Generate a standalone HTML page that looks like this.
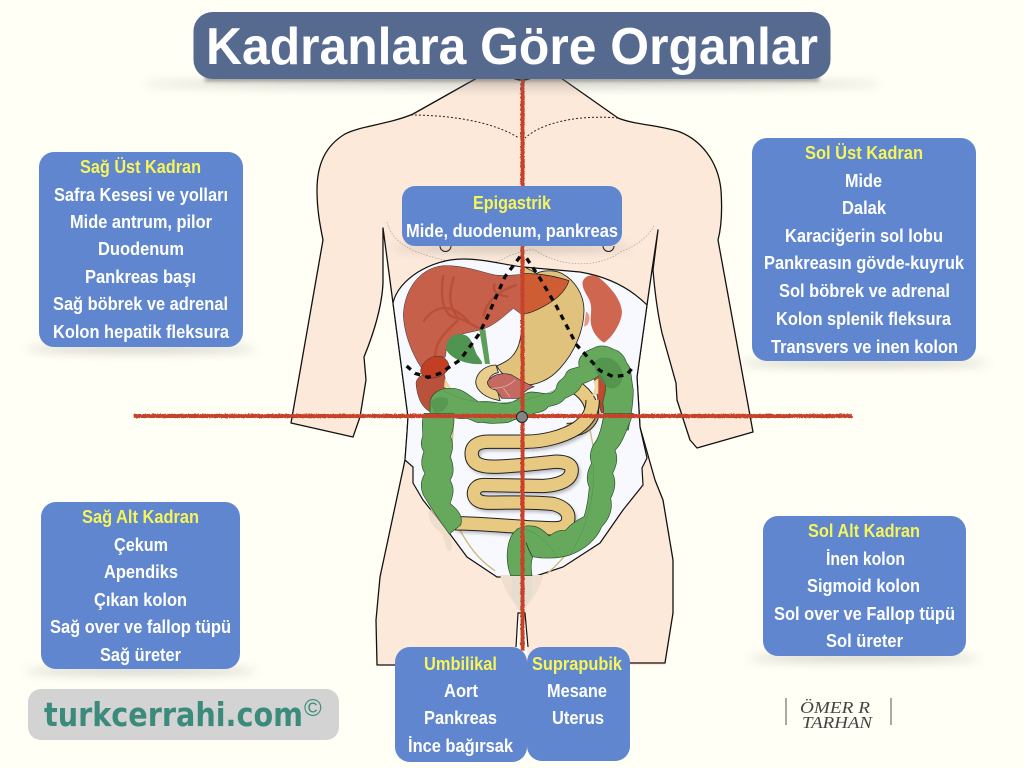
<!DOCTYPE html>
<html><head><meta charset="utf-8"><style>
html,body{margin:0;padding:0;background:#fffff5}
svg{display:block}
.l{font-family:"Liberation Sans",sans-serif;font-weight:bold;font-size:18px;fill:#fff}
.y{fill:#f6f55a}
</style></head><body>
<svg width="1024" height="768" viewBox="0 0 1024 768" xmlns="http://www.w3.org/2000/svg">
<defs>
<filter id="b" x="-30%" y="-300%" width="160%" height="700%"><feGaussianBlur stdDeviation="5"/></filter>
<filter id="b2" x="-10%" y="-300%" width="120%" height="700%"><feGaussianBlur stdDeviation="2"/></filter>
<filter id="s" x="-20%" y="-20%" width="140%" height="140%"><feGaussianBlur stdDeviation="5"/></filter>
<filter id="ro" x="-2%" y="-2%" width="104%" height="104%"><feTurbulence baseFrequency="0.6" numOctaves="2" result="n"/><feDisplacementMap in="SourceGraphic" in2="n" scale="2"/></filter>
</defs>
<rect width="1024" height="768" fill="#fffff5"/>

<!-- body -->
<path d="M477 70V78L413 114C390 124 360 126 345 134C325 146 317 165 317 190C317 210 320 225 323 240L291 423L353 437L360 417L366 380L364 357C375 330 382 305 383 283L383 228L393 303L408 417L407 433L405 460L380 577L376 620L377 665H515L518 613H525L528 665H665L673 613V560L663 500L655 480L640 427L637 377L647 305L652 270L658 230L653 270C655 295 658 315 662 333L676 383L677 400L690 440L697 448L753 432L718 240C722 225 722 205 721 190C718 160 700 140 680 132C660 125 635 125 618 118L561 78V70Z" fill="#fce9da"/>
<g fill="none" stroke="#111" stroke-width="1.300" stroke-linejoin="round">
<path d="M477 70V78L413 114C390 124 360 126 345 134C325 146 317 165 317 190C317 210 320 225 323 240L291 423L353 437L360 417L366 380L364 357C375 330 382 305 383 283L383 228L393 303L408 417L407 433L405 460L380 577L376 620L377 665H395"/>
<path d="M561 70V78L618 118C635 125 660 125 680 132C700 140 718 160 721 190C722 205 722 225 718 240L753 432L697 448L690 440L677 400L676 383L662 333C658 315 655 295 653 270L658 230L652 270L647 305L637 377L640 427L655 480L663 500L673 560L673 613L665 663H630"/>
<path d="M513 78Q522 82 531 78" stroke-width="1.600"/>
</g>
<path d="M516 647L518 613H525L528 647" fill="#fffff5" stroke="#111" stroke-width="1.200"/>

<path d="M411 115C445 115 490 120 519 138M618 118C585 115 545 120 525 138" fill="none" stroke="#222" stroke-width="1" stroke-dasharray="2 2"/>
<path d="M387 222C395 255 440 258 480 268C500 262 520 248 535 250C560 268 600 268 620 252C640 245 652 232 654 225" fill="none" stroke="#b5a89c" stroke-width=".8" stroke-dasharray="1.500 1.500"/>
<path d="M440 246a5.200 5.200 0 0 0 11 0M603 246a5.200 5.200 0 0 0 11 0" fill="none" stroke="#111" stroke-width="1"/>

<!-- abdomen window -->
<path d="M393 303C398 280 430 259 463 259C485 259 505 265 523 267L580 272C610 277 632 290 647 305L637 377L640 427L647 458L642 468L643 485L623 510L600 543L563 567L533 577H497L467 557L447 530L423 500L413 483L413 467L405 460L407 433L408 417Z" fill="#f7f9ff" stroke="#111" stroke-width="1.200"/>

<g transform="translate(380 240) scale(.33333)">
 <!-- spleen -->
 <path d="M608 125C615 105 640 100 660 115C690 140 722 175 726 215C725 250 695 295 672 308C650 295 632 268 632 240C632 215 640 195 620 165C612 150 606 140 608 125Z" fill="#cf6650"/>
 <path d="M618 215C630 220 632 240 622 255L612 260Z" fill="#e39a88"/>
 <!-- stomach -->
 <path d="M432 80L470 100C490 90 525 90 545 100C585 120 612 165 612 210C612 270 585 335 540 385C510 420 465 438 430 435C395 425 365 405 350 378C380 365 410 350 420 300C428 260 432 230 432 200Z" fill="#e1c27c" stroke="#222" stroke-width="2.500"/>
 <!-- duodenum -->
 <path d="M348 375C320 375 290 395 287 425C288 455 320 475 360 482L350 440L325 430C325 410 340 400 355 398Z" fill="#e8cd8b" stroke="#222" stroke-width="2.500"/>
 <!-- pancreas -->
 <path d="M322 425C335 405 365 395 395 405C420 420 440 432 462 440C440 448 425 460 425 475H365L348 450C335 448 322 440 322 425Z" fill="#c46a62" stroke="#222" stroke-width="2"/>
 <path d="M335 445C360 445 385 440 405 420M370 445L390 470" stroke="#e5c1b5" stroke-width="2" fill="none"/>
 <!-- liver -->
 <path d="M70 225C72 160 110 85 190 77C250 75 300 95 345 105C390 110 420 100 470 102C510 105 545 115 567 122C555 160 520 185 480 205C460 215 435 222 420 220L400 205C370 230 340 260 300 270C260 280 215 285 205 305C195 325 200 345 195 352C170 345 140 355 125 385C95 340 72 280 70 225Z" fill="#c7604a" stroke="#333" stroke-width="1.500"/>
 <path d="M432 100L470 102L565 122C555 160 520 185 480 205C460 215 435 222 432 220Z" fill="#cf5d33"/>
 <path d="M432 100L470 102C510 105 545 115 567 122C555 160 520 185 480 205C460 215 440 222 432 220" fill="none" stroke="#222" stroke-width="2"/>
 <g fill="none" stroke="#b34a33" stroke-width="7" opacity=".75">
  <path d="M190 105C180 170 185 230 235 235C260 240 280 260 300 265"/>
  <path d="M222 110C205 160 205 200 235 235"/>
  <path d="M130 245C160 200 210 180 270 250"/>
  <path d="M165 350C165 310 190 280 235 240"/>
  <path d="M310 230C320 180 360 150 410 135M345 130C335 150 345 165 385 170"/>
 </g>
 <!-- gallbladder & duct -->
 <path d="M298 270L316 268L330 372L315 372Z" fill="#5d9f58"/>
 <path d="M198 318C205 290 225 275 255 285C280 295 280 330 295 350C300 358 310 368 305 372C280 375 235 365 215 348C203 338 196 330 198 318Z" fill="#4f9450"/>
 <!-- ascending colon top + kidney -->
 <path d="M108 430C110 410 130 395 190 395C200 420 198 445 190 460C170 480 155 490 150 515C130 505 112 480 108 430Z" fill="#b9523c" stroke="#333" stroke-width="1.500"/>
 <path d="M195 415L212 442L192 442Z" fill="#ecd9a0"/>
 <path d="M122 390C128 362 160 340 190 352C210 365 212 385 195 400C180 412 155 418 140 412C128 408 120 400 122 390Z" fill="#c33f24" stroke="#333" stroke-width="1.500"/>
 <!-- tan intestine start under colon -->
 <path d="M585 440C625 465 640 500 635 530C625 555 600 570 560 570" fill="none" stroke="#222" stroke-width="43"/>
 <path d="M585 440C625 465 640 500 635 530C625 555 600 570 560 570" fill="none" stroke="#e8c981" stroke-width="37"/>
 <!-- left-side kidney pieces -->
 <path d="M640 410L660 395L695 430L680 510L665 520C650 490 650 440 640 410Z" fill="#c0492f" stroke="#333" stroke-width="1.500"/>
 <path d="M640 425L655 415L655 460L635 470L645 440Z" fill="#ecd9a0"/>
 <!-- colon -->
 <path d="M150 490C150 462 180 442 215 445C250 445 270 470 295 485C330 482 345 488 370 490C395 492 415 478 430 465C455 445 480 465 510 460C520 458 528 450 530 440C532 420 552 420 558 400C565 385 585 385 598 380C590 355 610 335 640 325C655 315 680 315 700 328C720 332 735 350 740 370C755 380 752 410 760 450C760 500 750 540 745 570H662C670 540 675 510 668 490C672 460 690 440 660 405C640 420 625 425 606 432C595 460 575 465 555 475C540 495 520 495 505 500C490 520 470 515 450 525C430 535 415 535 400 540C385 552 360 548 345 550C325 552 310 545 295 548C280 545 270 535 255 535C235 540 220 530 205 530C185 530 170 525 150 520Z" fill="#66a95c" stroke="#2b4f2a" stroke-width="2"/>
 <path d="M150 490C160 470 195 465 205 480C205 500 195 515 165 520Z" fill="#55954f" opacity=".8"/>
 <path d="M640 370C660 340 710 350 725 390C735 420 715 450 690 445C665 435 650 405 640 370Z" fill="#4f8f49" opacity=".7"/>
 <path d="M180 445C260 500 400 505 525 450" fill="none" stroke="#4f8f49" stroke-width="1.500"/>
</g>

<g transform="translate(400 400) scale(.33333)">
 <!-- pale ovaries etc -->
 <path d="M85 335C90 320 115 330 130 370C150 400 165 440 150 455C135 450 135 410 120 395C100 385 85 360 85 335Z" fill="#e8d8c4" opacity=".7"/>
 <path d="M300 525C330 525 400 525 430 525C420 570 395 600 365 640C340 605 315 580 300 525Z" fill="#efdfcf"/>
 <path d="M335 530H395V590L370 630H355L335 590Z" fill="#e5ded0"/>
 <!-- tubes -->
 <path d="M160 80C155 180 135 250 150 310C170 390 220 470 285 512M570 90C590 180 590 240 570 330C540 420 490 480 440 522" fill="none" stroke="#cdb878" stroke-width="4"/>
 <!-- shadow -->
 <path d="M578 0C578 35 565 60 530 85C490 110 430 125 380 125H265C230 125 215 140 215 160C215 190 240 200 280 200C340 200 410 190 470 185C500 185 515 195 515 210C515 240 480 255 430 258L250 255C230 255 220 270 222 285C225 300 240 308 265 308C330 308 400 305 460 312C490 320 505 335 505 352C505 375 490 385 465 385C380 385 260 370 165 370" fill="none" stroke="#444" stroke-width="40" opacity=".35" filter="url(#s)" transform="translate(6 8)"/>
 <path d="M578 0C578 35 565 60 530 85C490 110 430 125 380 125H265C230 125 215 140 215 160C215 190 240 200 280 200C340 200 410 190 470 185C500 185 515 195 515 210C515 240 480 255 430 258L250 255C230 255 220 270 222 285C225 300 240 308 265 308C330 308 400 305 460 312C490 320 505 335 505 352C505 375 490 385 465 385C380 385 260 370 165 370" fill="none" stroke="#222" stroke-width="43"/>
 <path d="M578 0C578 35 565 60 530 85C490 110 430 125 380 125H265C230 125 215 140 215 160C215 190 240 200 280 200C340 200 410 190 470 185C500 185 515 195 515 210C515 240 480 255 430 258L250 255C230 255 220 270 222 285C225 300 240 308 265 308C330 308 400 305 460 312C490 320 505 335 505 352C505 375 490 385 465 385C380 385 260 370 165 370" fill="none" stroke="#e8c981" stroke-width="37"/>
 <!-- ascending colon -->
 <path d="M72 40C62 70 70 90 68 110C60 130 65 145 72 155C60 185 65 205 75 220C60 245 62 265 70 285C85 310 110 350 148 402L182 375C190 350 175 330 150 310C160 285 165 265 150 240C165 220 160 190 150 170C160 150 160 130 152 110C160 90 165 60 160 40Z" fill="#66a95c" stroke="#2b4f2a" stroke-width="2"/>
 <!-- sigmoid + descending colon -->
 <path d="M612 40C608 70 600 100 590 120C575 140 565 165 575 190C560 215 558 240 568 262C565 285 565 310 552 350C530 360 510 375 495 392C480 388 465 395 448 408C430 392 415 378 395 378C370 375 345 385 332 412C318 445 318 490 332 527H396C393 505 392 490 398 470C420 475 470 478 510 465C550 450 590 420 605 380C625 360 640 330 632 295C645 270 650 245 638 220C650 195 655 175 645 150C665 135 680 90 700 40Z" fill="#66a95c" stroke="#2b4f2a" stroke-width="2"/>
 <path d="M378 428C385 445 390 460 398 470" fill="none" stroke="#222" stroke-width="2"/>
 <path d="M350 385C400 385 440 420 470 470M580 190C585 270 570 370 510 465" fill="none" stroke="#4f8f49" stroke-width="1.500"/>
</g>

<!-- cross lines -->
<g filter="url(#ro)">
<path d="M522 78V650M133 415.500H852" stroke="#c7432a" stroke-width="4" fill="none"/>
</g>
<circle cx="522" cy="417" r="5.500" fill="#858585" stroke="#222" stroke-width="1"/>

<!-- dashed region -->
<g transform="translate(380 240) scale(.33333)" fill="none" stroke="#0a0a0a" stroke-width="10" stroke-dasharray="17 16">
 <path d="M420 50L375 110L318 240L295 285L240 360L180 400L145 412L105 400L80 378"/>
 <path d="M440 55L480 115L530 200L590 315L660 392L700 410L740 405L760 380"/>
</g>

<!-- shadows -->
<g fill="#777" opacity=".45" filter="url(#b)">
 <ellipse cx="512" cy="84" rx="370" ry="3"/>
 <ellipse cx="141" cy="349" rx="115" ry="3"/>
 <ellipse cx="864" cy="363" rx="125" ry="3"/>
 <ellipse cx="512" cy="248" rx="120" ry="3"/>
 <ellipse cx="141" cy="671" rx="115" ry="3"/>
 <ellipse cx="864" cy="658" rx="115" ry="3"/>
</g>
<rect x="205" y="77" width="614" height="4" fill="#555" opacity=".7" filter="url(#b2)"/>

<!-- title -->
<rect x="193.500" y="12" width="637" height="67" rx="19" fill="#566a90"/>
<text x="206" y="64" textLength="612" lengthAdjust="spacingAndGlyphs" font-family="Liberation Sans, sans-serif" font-weight="bold" font-size="52" fill="#fff">Kadranlara Göre Organlar</text>

<!-- boxes -->
<g fill="#5f86cf">
 <rect x="39" y="152" width="204" height="195" rx="15"/>
 <rect x="752" y="138" width="224" height="223" rx="15"/>
 <rect x="402" y="186" width="220" height="60" rx="13"/>
 <rect x="41" y="502" width="199" height="167" rx="15"/>
 <rect x="763" y="516" width="203" height="140" rx="15"/>
 <rect x="395" y="647" width="132" height="115" rx="15"/>
 <rect x="527" y="647" width="103" height="114" rx="15"/>
</g>
<g class="l" text-anchor="start">
 <text class="l y" x="80" y="173" textLength="121" lengthAdjust="spacingAndGlyphs">Sağ Üst Kadran</text>
 <text class="l" x="54" y="201" textLength="174" lengthAdjust="spacingAndGlyphs">Safra Kesesi ve yolları</text>
 <text class="l" x="70" y="228" textLength="142" lengthAdjust="spacingAndGlyphs">Mide antrum, pilor</text>
 <text class="l" x="98" y="255" textLength="86" lengthAdjust="spacingAndGlyphs">Duodenum</text>
 <text class="l" x="85" y="283" textLength="111" lengthAdjust="spacingAndGlyphs">Pankreas başı</text>
 <text class="l" x="53" y="310" textLength="175" lengthAdjust="spacingAndGlyphs">Sağ böbrek ve adrenal</text>
 <text class="l" x="53" y="338" textLength="176" lengthAdjust="spacingAndGlyphs">Kolon hepatik fleksura</text>

 <text class="l y" x="805" y="159" textLength="118" lengthAdjust="spacingAndGlyphs">Sol Üst Kadran</text>
 <text class="l" x="845" y="187" textLength="37" lengthAdjust="spacingAndGlyphs">Mide</text>
 <text class="l" x="842" y="214" textLength="44" lengthAdjust="spacingAndGlyphs">Dalak</text>
 <text class="l" x="785" y="242" textLength="158" lengthAdjust="spacingAndGlyphs">Karaciğerin sol lobu</text>
 <text class="l" x="764" y="269" textLength="200" lengthAdjust="spacingAndGlyphs">Pankreasın gövde-kuyruk</text>
 <text class="l" x="779" y="297" textLength="171" lengthAdjust="spacingAndGlyphs">Sol böbrek ve adrenal</text>
 <text class="l" x="776" y="325" textLength="175" lengthAdjust="spacingAndGlyphs">Kolon splenik fleksura</text>
 <text class="l" x="771" y="353" textLength="187" lengthAdjust="spacingAndGlyphs">Transvers ve inen kolon</text>

 <text class="l y" x="473" y="209" textLength="78" lengthAdjust="spacingAndGlyphs">Epigastrik</text>
 <text class="l" x="406" y="237" textLength="212" lengthAdjust="spacingAndGlyphs">Mide, duodenum, pankreas</text>

 <text class="l y" x="82" y="523" textLength="117" lengthAdjust="spacingAndGlyphs">Sağ Alt Kadran</text>
 <text class="l" x="114" y="551" textLength="54" lengthAdjust="spacingAndGlyphs">Çekum</text>
 <text class="l" x="104" y="578" textLength="74" lengthAdjust="spacingAndGlyphs">Apendiks</text>
 <text class="l" x="94" y="606" textLength="93" lengthAdjust="spacingAndGlyphs">Çıkan kolon</text>
 <text class="l" x="50" y="633" textLength="181" lengthAdjust="spacingAndGlyphs">Sağ over ve fallop tüpü</text>
 <text class="l" x="100" y="661" textLength="81" lengthAdjust="spacingAndGlyphs">Sağ üreter</text>

 <text class="l y" x="808" y="537" textLength="112" lengthAdjust="spacingAndGlyphs">Sol Alt Kadran</text>
 <text class="l" x="826" y="565" textLength="79" lengthAdjust="spacingAndGlyphs">İnen kolon</text>
 <text class="l" x="807" y="592" textLength="113" lengthAdjust="spacingAndGlyphs">Sigmoid kolon</text>
 <text class="l" x="774" y="620" textLength="181" lengthAdjust="spacingAndGlyphs">Sol over ve Fallop tüpü</text>
 <text class="l" x="826" y="647" textLength="77" lengthAdjust="spacingAndGlyphs">Sol üreter</text>

 <text class="l y" x="424" y="670" textLength="73" lengthAdjust="spacingAndGlyphs">Umbilikal</text>
 <text class="l" x="444" y="697" textLength="34" lengthAdjust="spacingAndGlyphs">Aort</text>
 <text class="l" x="424" y="724" textLength="73" lengthAdjust="spacingAndGlyphs">Pankreas</text>
 <text class="l" x="408" y="752" textLength="105" lengthAdjust="spacingAndGlyphs">İnce bağırsak</text>

 <text class="l y" x="532" y="670" textLength="90" lengthAdjust="spacingAndGlyphs">Suprapubik</text>
 <text class="l" x="547" y="697" textLength="60" lengthAdjust="spacingAndGlyphs">Mesane</text>
 <text class="l" x="552" y="724" textLength="52" lengthAdjust="spacingAndGlyphs">Uterus</text>
</g>

<!-- logo -->
<rect x="28" y="689" width="311" height="51" rx="13" fill="#d3d3d3"/>
<text x="44" y="726" textLength="259" lengthAdjust="spacingAndGlyphs" font-family="DejaVu Sans, sans-serif" font-weight="bold" font-size="33" fill="#3b8a7c">turkcerrahi.com</text>
<text x="304" y="716" font-family="Liberation Sans, sans-serif" font-size="24" fill="#3b8a7c">©</text>

<!-- signature -->
<path d="M786 698V725M891 698V725" stroke="#555" stroke-width="1"/>
<text x="800" y="713" textLength="70" lengthAdjust="spacingAndGlyphs" font-family="Liberation Serif, serif" font-style="italic" font-size="17" fill="#444">ÖMER R</text>
<text x="802" y="728" textLength="70" lengthAdjust="spacingAndGlyphs" font-family="Liberation Serif, serif" font-style="italic" font-size="17" fill="#444">TARHAN</text>
</svg>
</body></html>
